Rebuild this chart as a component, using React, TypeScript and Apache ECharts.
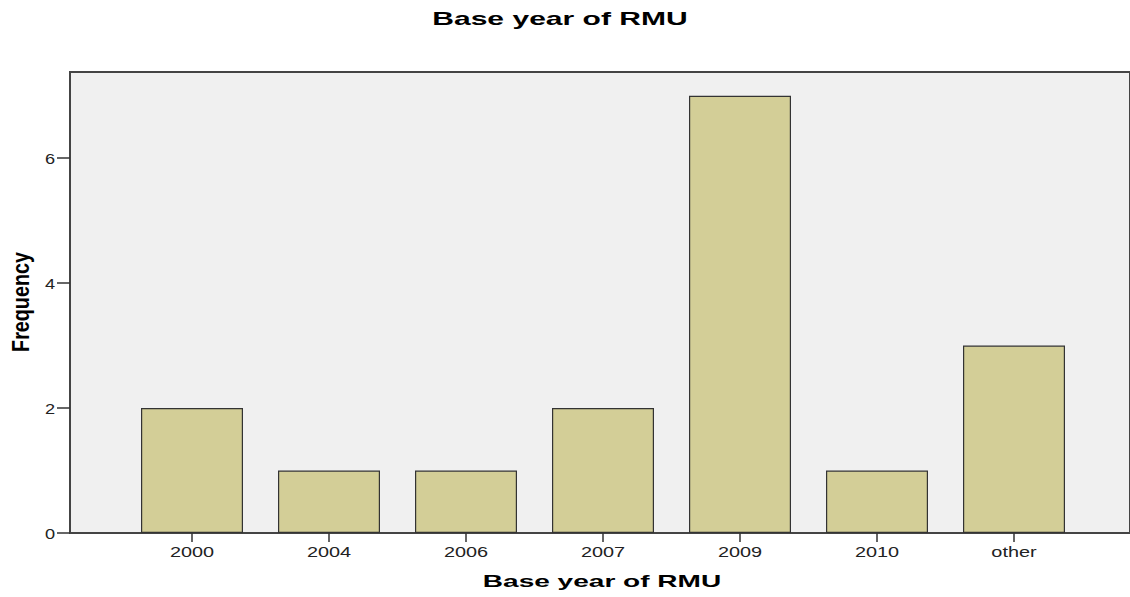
import React, { useEffect, useRef } from "react";
import * as echarts from "echarts";

const categories = ["2000", "2004", "2006", "2007", "2009", "2010", "other"];
const frequencies = [2, 1, 1, 2, 7, 1, 3];
const yTicks = [0, 2, 4, 6];
const yMax = 7.38;
const titleText = "Base year of RMU";
const xName = "Base year of RMU";
const yName = "Frequency";

export default function App() {
  const ref = useRef<HTMLDivElement>(null);
  useEffect(() => {
    if (!ref.current) return;
    const chart = echarts.init(ref.current, undefined, { renderer: "svg" });
    const font = "'Liberation Sans', Arial, sans-serif";
    chart.setOption({
      animation: false,
      textStyle: { fontFamily: font },
      grid: [
        {
          left: 70, top: 72, width: 1100, bottom: 64,
          show: true, backgroundColor: "#f0f0f0", borderColor: "#444", borderWidth: 2,
        },
        { left: 123.5, width: 959, top: 72, bottom: 64 },
      ],
      xAxis: [
        { type: "value", gridIndex: 0, show: false, min: 0, max: 1 },
        {
          type: "category", gridIndex: 1, data: categories,
          axisLine: { show: false },
          axisTick: { show: true, alignWithLabel: true, length: 9, lineStyle: { color: "#333", width: 1.5 } },
          axisLabel: { show: false },
        },
      ],
      yAxis: [
        {
          type: "value", gridIndex: 0, min: 0, max: yMax, interval: 2,
          splitLine: { show: false },
          axisLine: { show: false },
          axisTick: { show: true, length: 13, customValues: yTicks, lineStyle: { color: "#333", width: 1.5 } },
          axisLabel: { show: false },
        },
        { type: "value", gridIndex: 1, min: 0, max: yMax, show: false },
      ],
      series: [
        {
          type: "bar", xAxisIndex: 1, yAxisIndex: 1,
          data: frequencies, barWidth: 102,
          itemStyle: { color: "#d3ce97", borderColor: "#333", borderWidth: 1.2 },
        },
      ],
    });

    const graphics: any[] = [];
    graphics.push({
      type: "text", x: 560, y: 19, scaleX: 1.67, scaleY: 1,
      style: { text: titleText, font: `bold 18px ${font}`, fill: "#000", align: "center", verticalAlign: "middle" },
    });
    graphics.push({
      type: "text", x: 602, y: 581, scaleX: 1.65, scaleY: 1,
      style: { text: xName, font: `bold 17px ${font}`, fill: "#000", align: "center", verticalAlign: "middle" },
    });
    graphics.push({
      type: "text", x: 21, y: 302, rotation: Math.PI / 2, scaleX: 1.04, scaleY: 1.22,
      style: { text: yName, font: `bold 19px ${font}`, fill: "#000", align: "center", verticalAlign: "middle" },
    });
    categories.forEach((c) => {
      const px = chart.convertToPixel({ xAxisIndex: 1 } as any, c) as any;
      graphics.push({
        type: "text", x: px, y: 552, scaleX: 1.42, scaleY: 1,
        style: { text: c, font: `14px ${font}`, fill: "#222", align: "center", verticalAlign: "middle" },
      });
    });
    yTicks.forEach((v) => {
      const py = chart.convertToPixel({ yAxisIndex: 0 } as any, v) as any;
      graphics.push({
        type: "text", x: 55, y: py + 1, scaleX: 1.3, scaleY: 1,
        style: { text: String(v), font: `14px ${font}`, fill: "#222", align: "right", verticalAlign: "middle" },
      });
    });
    chart.setOption({ graphic: graphics });
    return () => chart.dispose();
  }, []);
  return <div ref={ref} style={{ position: "absolute", left: 0, top: 0, width: 1130, height: 597 }} />;
}
